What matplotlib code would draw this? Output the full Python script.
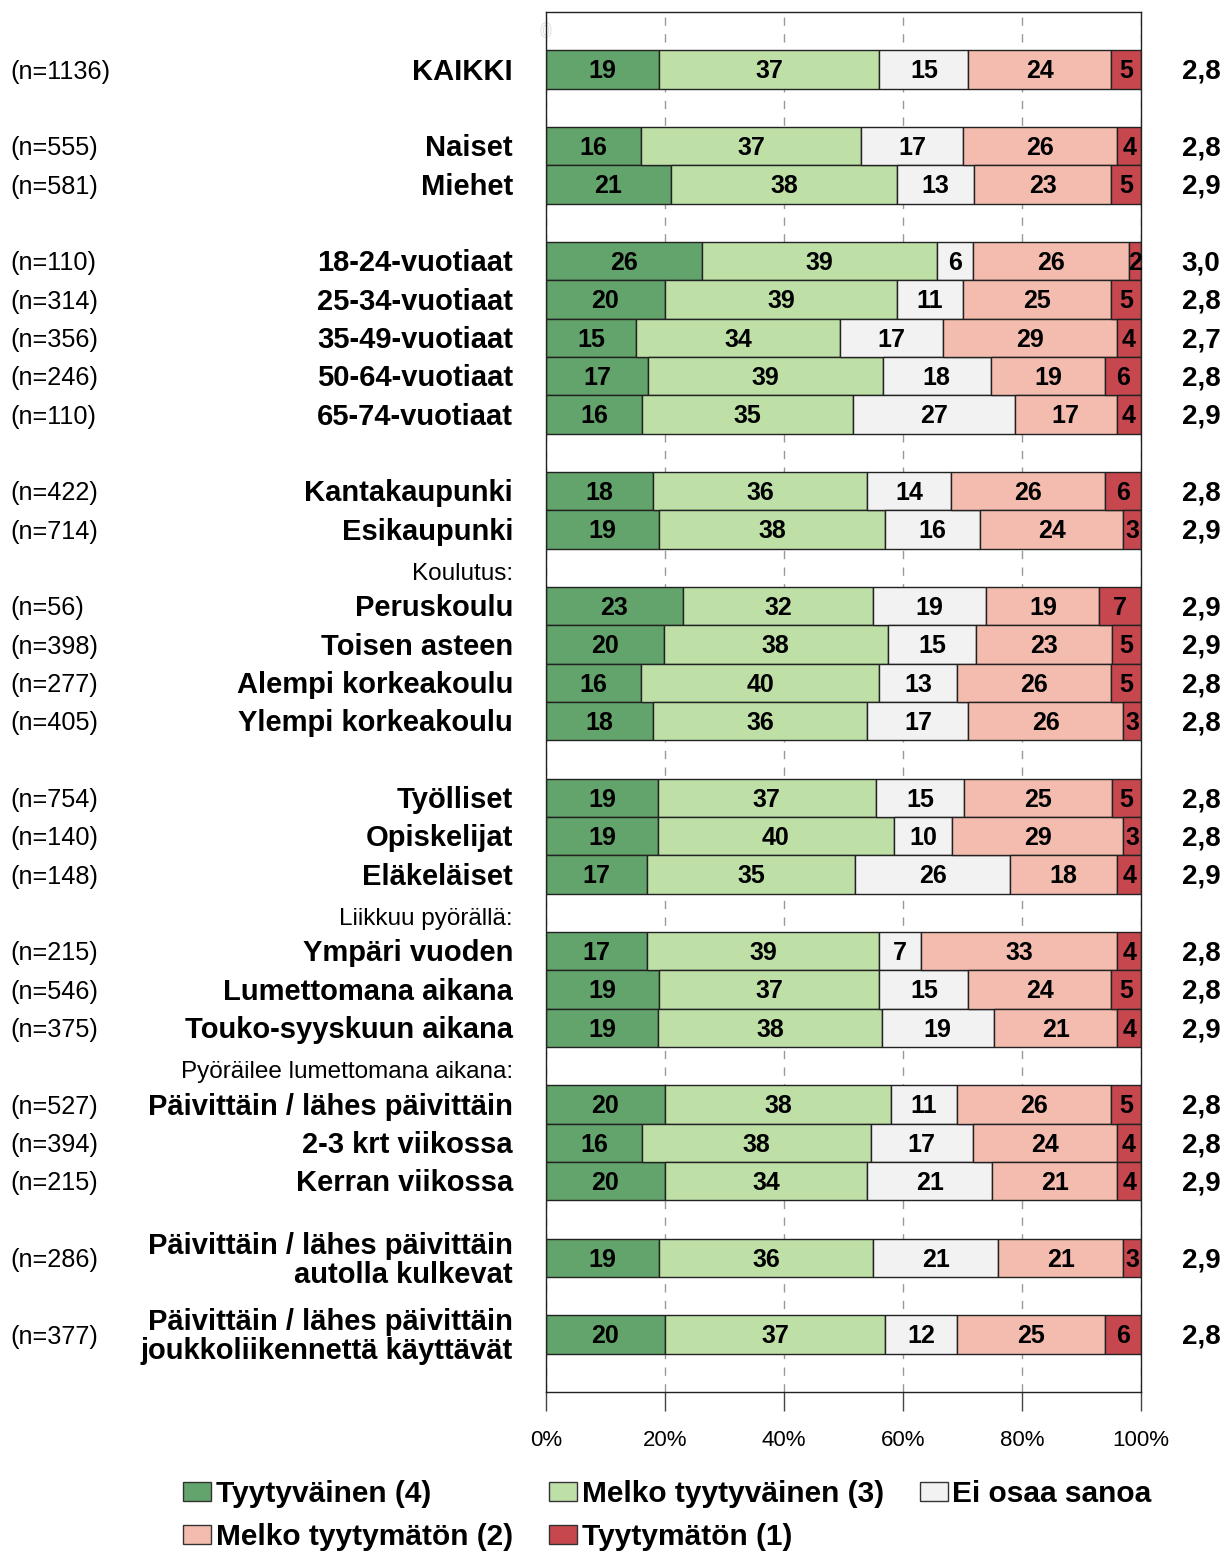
import matplotlib
matplotlib.use("Agg")
import matplotlib.pyplot as plt
import matplotlib.patheffects as pe
from matplotlib.patches import Patch
import numpy as np

plt.rcParams['font.family'] = ['Liberation Sans', 'DejaVu Sans']

# ---- data ---------------------------------------------------------------
categories = [
    "KAIKKI",
    "Naiset", "Miehet",
    "18-24-vuotiaat", "25-34-vuotiaat", "35-49-vuotiaat", "50-64-vuotiaat", "65-74-vuotiaat",
    "Kantakaupunki", "Esikaupunki",
    "Peruskoulu", "Toisen asteen", "Alempi korkeakoulu", "Ylempi korkeakoulu",
    "Työlliset", "Opiskelijat", "Eläkeläiset",
    "Ympäri vuoden", "Lumettomana aikana", "Touko-syyskuun aikana",
    "Päivittäin / lähes päivittäin", "2-3 krt viikossa", "Kerran viikossa",
    "Päivittäin / lähes päivittäin\nautolla kulkevat",
    "Päivittäin / lähes päivittäin\njoukkoliikennettä käyttävät",
]
n_sizes = [1136, 555, 581, 110, 314, 356, 246, 110, 422, 714, 56, 398, 277, 405,
           754, 140, 148, 215, 546, 375, 527, 394, 215, 286, 377]

tyytyvainen = [19, 16, 21, 26, 20, 15, 17, 16, 18, 19, 23, 20, 16, 18,
               19, 19, 17, 17, 19, 19, 20, 16, 20, 19, 20]
melko_tyytyvainen = [37, 37, 38, 39, 39, 34, 39, 35, 36, 38, 32, 38, 40, 36,
                     37, 40, 35, 39, 37, 38, 38, 38, 34, 36, 37]
ei_osaa = [15, 17, 13, 6, 11, 17, 18, 27, 14, 16, 19, 15, 13, 17,
           15, 10, 26, 7, 15, 19, 11, 17, 21, 21, 12]
melko_tyytymaton = [24, 26, 23, 26, 25, 29, 19, 17, 26, 24, 19, 23, 26, 26,
                    25, 29, 18, 33, 24, 21, 26, 24, 21, 21, 25]
tyytymaton = [5, 4, 5, 2, 5, 4, 6, 4, 6, 3, 7, 5, 5, 3,
              5, 3, 4, 4, 5, 4, 5, 4, 4, 3, 6]
means = ["2,8", "2,8", "2,9", "3,0", "2,8", "2,7", "2,8", "2,9", "2,8", "2,9",
         "2,9", "2,9", "2,8", "2,8", "2,8", "2,8", "2,9", "2,8", "2,8", "2,9",
         "2,8", "2,8", "2,9", "2,9", "2,8"]

group_sizes = [1, 2, 5, 2, 4, 3, 3, 3, 1, 1]
group_headers = [None, None, None, None, "Koulutus:", None,
                 "Liikkuu pyörällä:", "Pyöräilee lumettomana aikana:", None, None]

series_names = ["Tyytyväinen (4)", "Melko tyytyväinen (3)", "Ei osaa sanoa",
                "Melko tyytymätön (2)", "Tyytymätön (1)"]
series_colors = ["#62A46B", "#BEE0A7", "#F2F2F2", "#F4BCAE", "#C7474F"]

# ---- row positions: groups separated by one empty slot -------------------
positions, header_pos = [], []
pos = 0
for size, header in zip(group_sizes, group_headers):
    if header is not None:
        header_pos.append((pos - 1, header))
    positions.extend(range(pos, pos + size))
    pos += size + 1
positions = np.array(positions, dtype=float)

values = np.array([tyytyvainen, melko_tyytyvainen, ei_osaa,
                   melko_tyytymaton, tyytymaton], dtype=float)
shares = values / values.sum(axis=0) * 100

# ---- figure ---------------------------------------------------------------
W, H = 1226, 1551
fig = plt.figure(figsize=(W / 100, H / 100), dpi=100)
ax_left, ax_right, ax_top, ax_bottom = 546, 1141, 12, 1392
ax = fig.add_axes([ax_left / W, 1 - ax_bottom / H,
                   (ax_right - ax_left) / W, (ax_bottom - ax_top) / H])

left = np.zeros(len(categories))
for k in range(5):
    ax.barh(positions, shares[k], left=left, height=1.0,
            color=series_colors[k], edgecolor="#222222", linewidth=1.0, zorder=2)
    for i, (y, w, v) in enumerate(zip(positions, shares[k], values[k])):
        ax.text(left[i] + w / 2, y + 0.05, f"{int(v)}", ha="center", va="center",
                fontsize=18, fontweight="bold", color="black", zorder=3)
    left += shares[k]

ax.set_xlim(0, 100)
ax.set_ylim(pos - 1 + 0.5, -1.5)
ax.set_yticks([])
ax.set_xticks(range(0, 101, 20))
ax.set_xticklabels([f"{t}%" for t in range(0, 101, 20)], fontsize=16)
ax.tick_params(axis="x", length=14, width=1, color="#444444", pad=13)
ax.xaxis.grid(True, color="#999999", linestyle=(0, (6, 6)), linewidth=1)
ax.set_axisbelow(True)
for s in ax.spines.values():
    s.set_color("#222222")
    s.set_linewidth(1)

# faint zero marker in the top-left corner
ax.text(0, -0.97, "0", ha="center", va="center", fontsize=14, color="white",
        path_effects=[pe.withStroke(linewidth=1.2, foreground="#d9d9d9")], zorder=1)

tr = ax.get_yaxis_transform()
x_cat = (513 - ax_left) / (ax_right - ax_left)
x_n = (10 - ax_left) / (ax_right - ax_left)
x_mean = (1201 - ax_left) / (ax_right - ax_left)

for y, cat, n, m in zip(positions, categories, n_sizes, means):
    ax.text(x_cat, y + 0.06, cat, transform=tr, ha="right", va="center",
            fontsize=21, fontweight="bold", linespacing=1.05, clip_on=False)
    ax.text(x_n, y + 0.06, f"(n={n})", transform=tr, ha="left", va="center",
            fontsize=18.2, clip_on=False)
    ax.text(x_mean, y + 0.06, m, transform=tr, ha="center", va="center",
            fontsize=20, fontweight="bold", clip_on=False)

for y, text in header_pos:
    ax.text(x_cat, y + 0.15, text, transform=tr, ha="right", va="center",
            fontsize=17.5, clip_on=False)

# legend laid out row by row (3 columns)
handles = [Patch(facecolor=c, edgecolor="#333333", linewidth=1) for c in series_colors]
order = [0, 3, 1, 4, 2]
fig.legend([handles[i] for i in order], [series_names[i] for i in order],
           ncol=3, loc="upper left", bbox_to_anchor=(183 / W, 1 - 1480 / H),
           frameon=False, prop={"size": 21.5, "weight": "bold"},
           handlelength=0.95, handleheight=0.6, handletextpad=0.15,
           columnspacing=1.2, labelspacing=0.5, borderpad=0, borderaxespad=0)

fig.savefig("out.png", dpi=100)
